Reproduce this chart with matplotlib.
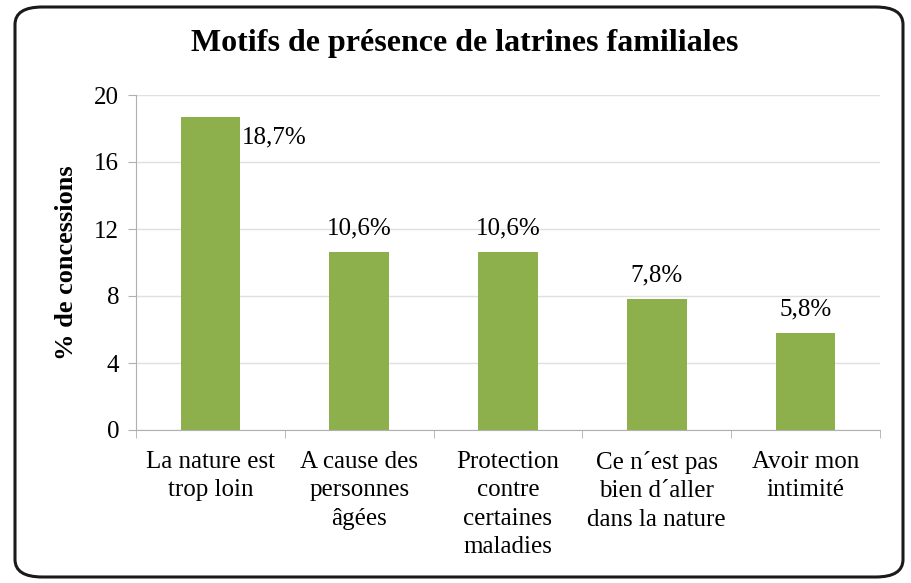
import matplotlib
matplotlib.use('Agg')
import matplotlib.pyplot as plt
from matplotlib.patches import FancyBboxPatch

categories = ['La nature est\ntrop loin', 'A cause des\npersonnes\nâgées',
              'Protection\ncontre\ncertaines\nmaladies',
              'Ce n\u00b4est pas\nbien d\u00b4aller\ndans la nature',
              'Avoir mon\nintimité']
values = [18.7, 10.6, 10.6, 7.8, 5.8]
labels = ['18,7%', '10,6%', '10,6%', '7,8%', '5,8%']
yticks = [0, 4, 8, 12, 16, 20]

plt.rcParams['font.family'] = ['Liberation Serif', 'DejaVu Serif']

fig = plt.figure(figsize=(9.12, 5.83), dpi=100)
fig.patch.set_facecolor('white')

# rounded frame around the whole chart
frame = FancyBboxPatch((15 / 912, 6 / 583), 888 / 912, 570 / 583,
                       boxstyle='round,pad=0,rounding_size=0.03',
                       transform=fig.transFigure, facecolor='white',
                       edgecolor='#1a1a1a', linewidth=2.2, zorder=-5)
fig.patches.append(frame)

ax = fig.add_axes([136 / 912, 1 - 430 / 583, 744 / 912, 335 / 583])
ax.set_facecolor('none')
ax.set_zorder(2)

x = range(len(categories))
bars = ax.bar(x, values, width=0.4, color='#8DB04C', zorder=3)

for i, (b, lab) in enumerate(zip(bars, labels)):
    if i == 0:
        ax.annotate(lab, (b.get_x() + b.get_width(), values[i]),
                    xytext=(1, -7), textcoords='offset points',
                    ha='left', va='top', fontsize=18)
    else:
        ax.annotate(lab, (b.get_x() + b.get_width() / 2, values[i]),
                    xytext=(0, 9), textcoords='offset points',
                    ha='center', va='bottom', fontsize=18)

ax.set_xlim(-0.5, len(categories) - 0.5)
ax.set_ylim(0, 20)
ax.set_yticks(yticks)
ax.set_yticklabels([str(v) for v in yticks], fontsize=18)
ax.set_xticks(list(x))
ax.set_xticklabels(categories, fontsize=18, linespacing=1.38, va='top')
ax.set_xticks([i + 0.5 for i in range(-1, len(categories))], minor=True)
ax.tick_params(axis='x', which='major', length=0, pad=15)
ax.tick_params(axis='x', which='minor', length=6, color='#b0b0b0')
ax.tick_params(axis='y', length=6, color='#b0b0b0', pad=6)

ax.grid(axis='y', color='#e0e0e0', linewidth=1, zorder=0)
for side in ['top', 'right']:
    ax.spines[side].set_visible(False)
for side in ['left', 'bottom']:
    ax.spines[side].set_color('#b0b0b0')

ax.set_ylabel('% de concessions', fontsize=19, fontweight='bold', labelpad=12)
fig.text(465 / 912, 1 - 44 / 583, 'Motifs de présence de latrines familiales',
         ha='center', va='center', fontsize=23, fontweight='bold')

fig.savefig('out.png', dpi=100)
